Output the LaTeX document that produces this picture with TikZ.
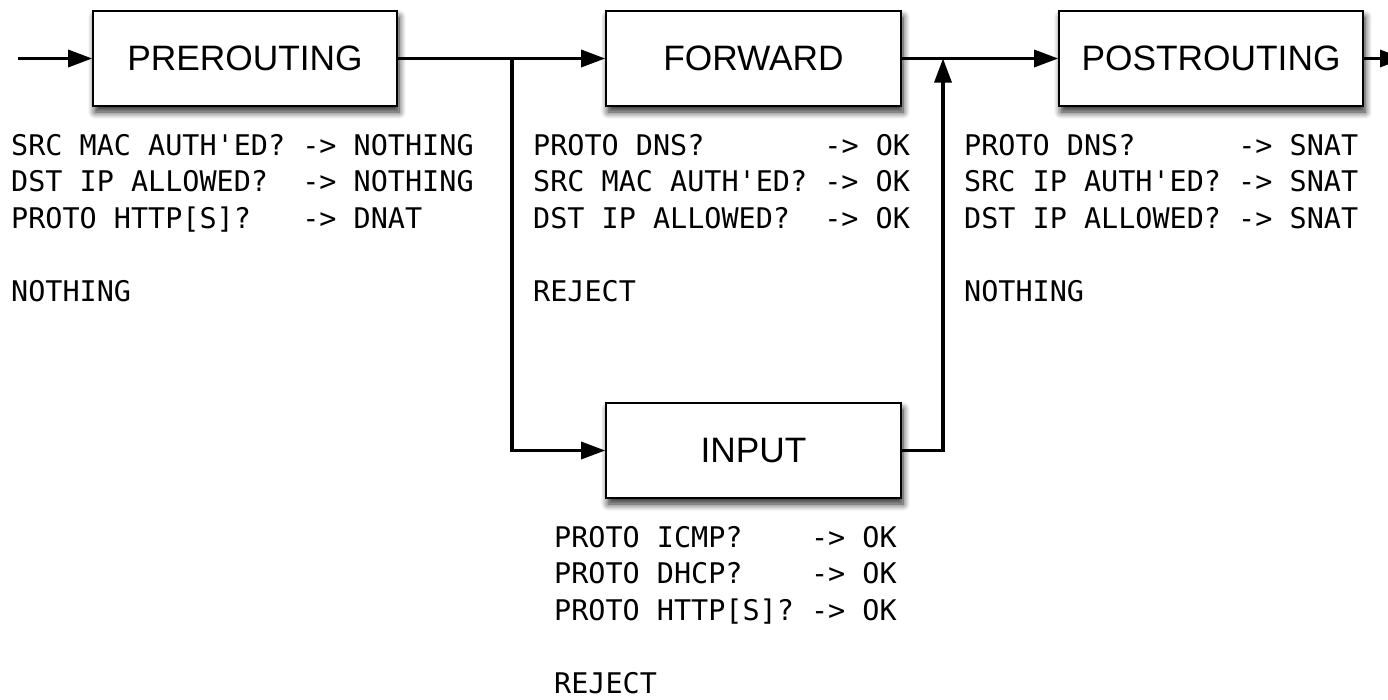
\documentclass[tikz,border=0pt]{standalone}
\usepackage{fontspec}
\setmainfont{Liberation Sans}
\setmonofont{DejaVu Sans Mono}
\usetikzlibrary{arrows.meta,shadows.blur}

\begin{document}
\begin{tikzpicture}[x=1pt,y=-1pt,
  chainbox/.style={draw=black, line width=1.6pt, fill=white,
    minimum height=95pt, inner sep=0pt,
    font=\fontsize{35.3}{40}\selectfont,
    blur shadow={shadow xshift=2pt, shadow yshift=-6pt,
      shadow blur radius=7pt, shadow blur steps=8, shadow opacity=85}},
  flow/.style={line width=3.2pt, -{Triangle[length=24pt,width=17pt]}},
  rule/.style={anchor=base west, inner sep=0pt,
    font=\ttfamily\fontsize{28.45}{36.7}\selectfont}]

\useasboundingbox (0,0) rectangle (1388,699);
\clip (0,0) rectangle (1388,699);

% chains
\node[chainbox, minimum width=304pt] (pre)  at (245,58.5)   {PREROUTING};
\node[chainbox, minimum width=295pt] (fwd)  at (753.5,58.5) {FORWARD};
\node[chainbox, minimum width=304pt] (post) at (1211,58.5)  {POSTROUTING};
\node[chainbox, minimum width=295pt] (inp)  at (753.5,450.5) {INPUT};

% junctions and free ends
\coordinate (src)    at (18,58.5);
\coordinate (split)  at (512,58.5);
\coordinate (merge)  at (943,58.5);
\coordinate (sink)   at (1404,58.5);

% connectors
\draw[flow] (src) -- (pre.west);
\draw[flow] (pre.east) -- (fwd.west);
\draw[flow] (split) |- (inp.west);
\draw[flow] (inp.east) -| (merge);
\draw[flow] (fwd.east) -- (post.west);
\draw[flow] (post.east) -- (sink);

% PREROUTING rules
\node[rule] (pre1) at (11,155)   {SRC MAC AUTH'ED? -> NOTHING};
\node[rule] (pre2) at (11,191.7) {DST IP ALLOWED?~~-> NOTHING};
\node[rule] (pre3) at (11,228.4) {PROTO HTTP[S]?~~~-> DNAT};
\node[rule] (pre4) at (11,301.8) {NOTHING};

% FORWARD rules
\node[rule] (fwd1) at (533,155)   {PROTO DNS?~~~~~~~-> OK};
\node[rule] (fwd2) at (533,191.7) {SRC MAC AUTH'ED? -> OK};
\node[rule] (fwd3) at (533,228.4) {DST IP ALLOWED?~~-> OK};
\node[rule] (fwd4) at (533,301.8) {REJECT};

% POSTROUTING rules
\node[rule] (post1) at (964,155)   {PROTO DNS?~~~~~~-> SNAT};
\node[rule] (post2) at (964,191.7) {SRC IP AUTH'ED? -> SNAT};
\node[rule] (post3) at (964,228.4) {DST IP ALLOWED? -> SNAT};
\node[rule] (post4) at (964,301.8) {NOTHING};

% INPUT rules
\node[rule] (inp1) at (554,547)   {PROTO ICMP?~~~~-> OK};
\node[rule] (inp2) at (554,583.7) {PROTO DHCP?~~~~-> OK};
\node[rule] (inp3) at (554,620.4) {PROTO HTTP[S]? -> OK};
\node[rule] (inp4) at (554,693.8) {REJECT};
\end{tikzpicture}
\end{document}
